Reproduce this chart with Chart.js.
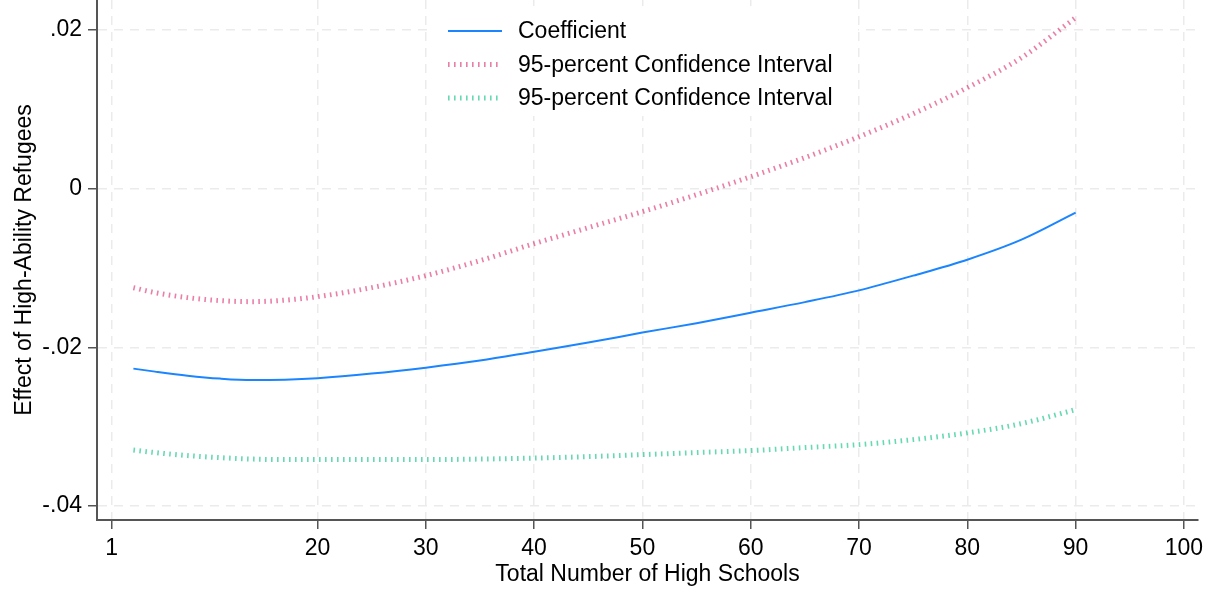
<!DOCTYPE html>
<html>
<head>
<meta charset="utf-8">
<script src="https://cdn.jsdelivr.net/npm/chart.js@4"></script>
<style>
  body { margin: 0; background: #fff; }
  #wrap { width: 1214px; height: 597px; position: relative; }
</style>
</head>
<body>
<div id="wrap"><canvas id="chart"></canvas></div>
<script>
// values
const xs = [3, 5, 8, 11, 14, 17, 20, 25, 30, 35, 40, 45, 50, 55, 60, 65, 70, 75, 80, 85, 90];
const coef = [-0.02268, -0.02306, -0.02357, -0.02394, -0.02413, -0.02407, -0.02388, -0.02331, -0.02256,
    -0.02167, -0.02054, -0.0194, -0.01814, -0.01695, -0.01563, -0.0143, -0.01282, -0.01096, -0.00895,
    -0.00643, -0.00302];
const ciUpper = [-0.01248, -0.0131, -0.01373, -0.01411, -0.01424, -0.01405, -0.01361, -0.01247, -0.01096,
    -0.00907, -0.00693, -0.00491, -0.0029, -0.00076, 0.00151, 0.00391, 0.00655, 0.00945, 0.01273,
    0.01651, 0.02155];
const ciLower = [-0.03295, -0.03326, -0.03364, -0.0339, -0.03408, -0.03415, -0.03415, -0.03415, -0.03415,
    -0.03408, -0.03396, -0.03377, -0.03352, -0.03326, -0.03301, -0.03263, -0.03226, -0.03163, -0.03078,
    -0.02961, -0.02785];
const xTicks = [1, 20, 30, 40, 50, 60, 70, 80, 90, 100];
const yTicks = [-0.04, -0.02, 0, 0.02];
const yTickLabels = ['-.04', '-.02', '0', '.02'];
const seriesLabels = ['Coefficient', '95-percent Confidence Interval', '95-percent Confidence Interval'];

const FONT = '"Liberation Sans", Arial, sans-serif';
const gridColor = '#ebebeb';
const axisColor = '#555555';

function pts(vals) {
    return xs.map((x, i) => ({ x: x, y: vals[i] }));
}

// legend stacked in a white box inside the plot, like Stata draws it
const boxLegend = {
    id: 'boxLegend',
    beforeDatasetsDraw(chart) {
        const c = chart.ctx;
        c.save();
        c.fillStyle = '#ffffff';
        c.fillRect(433, 6, 425, 110);
        c.font = '23px ' + FONT;
        c.textBaseline = 'middle';
        c.fillStyle = '#000000';
        chart.data.datasets.forEach((ds, i) => {
            const y = 31 + i * 33.5;
            c.beginPath();
            c.strokeStyle = ds.borderColor;
            c.lineWidth = ds.borderWidth;
            c.lineCap = 'butt';
            c.setLineDash(ds.borderDash || []);
            c.moveTo(448, y);
            c.lineTo(502, y);
            c.stroke();
            c.setLineDash([]);
            c.fillText(ds.label, 518, y + 1);
        });
        c.restore();
    }
};

var ctx = document.getElementById('chart');
var myChart = new Chart(ctx, {
    type: 'line',
    data: {
        datasets: [{
                label: seriesLabels[0],
                data: pts(coef),
                borderColor: '#1a85ff',
                borderWidth: 2,
                pointRadius: 0,
                cubicInterpolationMode: 'monotone',
                fill: false
            },
            {
                label: seriesLabels[1],
                data: pts(ciUpper),
                borderColor: 'rgba(220,40,110,0.6)',
                borderWidth: 5,
                borderDash: [1.6, 4.4],
                borderCapStyle: 'butt',
                pointRadius: 0,
                cubicInterpolationMode: 'monotone',
                fill: false
            },
            {
                label: seriesLabels[2],
                data: pts(ciLower),
                borderColor: 'rgba(0,191,127,0.6)',
                borderWidth: 5,
                borderDash: [1.6, 4.4],
                borderCapStyle: 'butt',
                pointRadius: 0,
                cubicInterpolationMode: 'monotone',
                fill: false
            }
        ]
    },
    options: {
        responsive: true,
        maintainAspectRatio: false,
        animation: false,
        layout: {
            padding: { left: 7, right: 16, top: 0, bottom: 5 }
        },
        plugins: {
            legend: { display: false },
            tooltip: { enabled: false }
        },
        scales: {
            x: {
                type: 'linear',
                min: -0.36,
                max: 101.3,
                afterBuildTicks: s => { s.ticks = xTicks.map(v => ({ value: v })); },
                afterFit: s => { s.height = 72; s.paddingLeft = 0; s.paddingRight = 0; },
                grid: {
                    color: gridColor,
                    lineWidth: 1.5,
                    tickLength: 9,
                    tickColor: axisColor,
                    tickWidth: 1.5
                },
                border: { color: axisColor, width: 2, dash: [9, 7] },
                ticks: {
                    autoSkip: false,
                    maxRotation: 0,
                    padding: 6,
                    color: '#000',
                    font: { family: FONT, size: 23 },
                    callback: v => String(v)
                },
                title: {
                    display: true,
                    text: 'Total Number of High Schools',
                    color: '#000',
                    font: { family: FONT, size: 23 }
                }
            },
            y: {
                min: -0.04176,
                max: 0.02378,
                afterBuildTicks: s => { s.ticks = yTicks.map(v => ({ value: v })); },
                afterFit: s => { s.width = 90; s.paddingTop = 0; s.paddingBottom = 0; },
                grid: {
                    color: gridColor,
                    lineWidth: 1.5,
                    tickLength: 9,
                    tickColor: axisColor,
                    tickWidth: 1.5
                },
                border: { color: axisColor, width: 2, dash: [9, 7] },
                ticks: {
                    padding: 6,
                    color: '#000',
                    font: { family: FONT, size: 23 },
                    callback: v => {
                        const i = yTicks.findIndex(t => Math.abs(t - v) < 1e-9);
                        return i >= 0 ? yTickLabels[i] : '';
                    }
                },
                title: {
                    display: true,
                    text: 'Effect of High-Ability Refugees',
                    color: '#000',
                    font: { family: FONT, size: 23 }
                }
            }
        }
    },
    plugins: [boxLegend]
});
</script>
</body>
</html>
